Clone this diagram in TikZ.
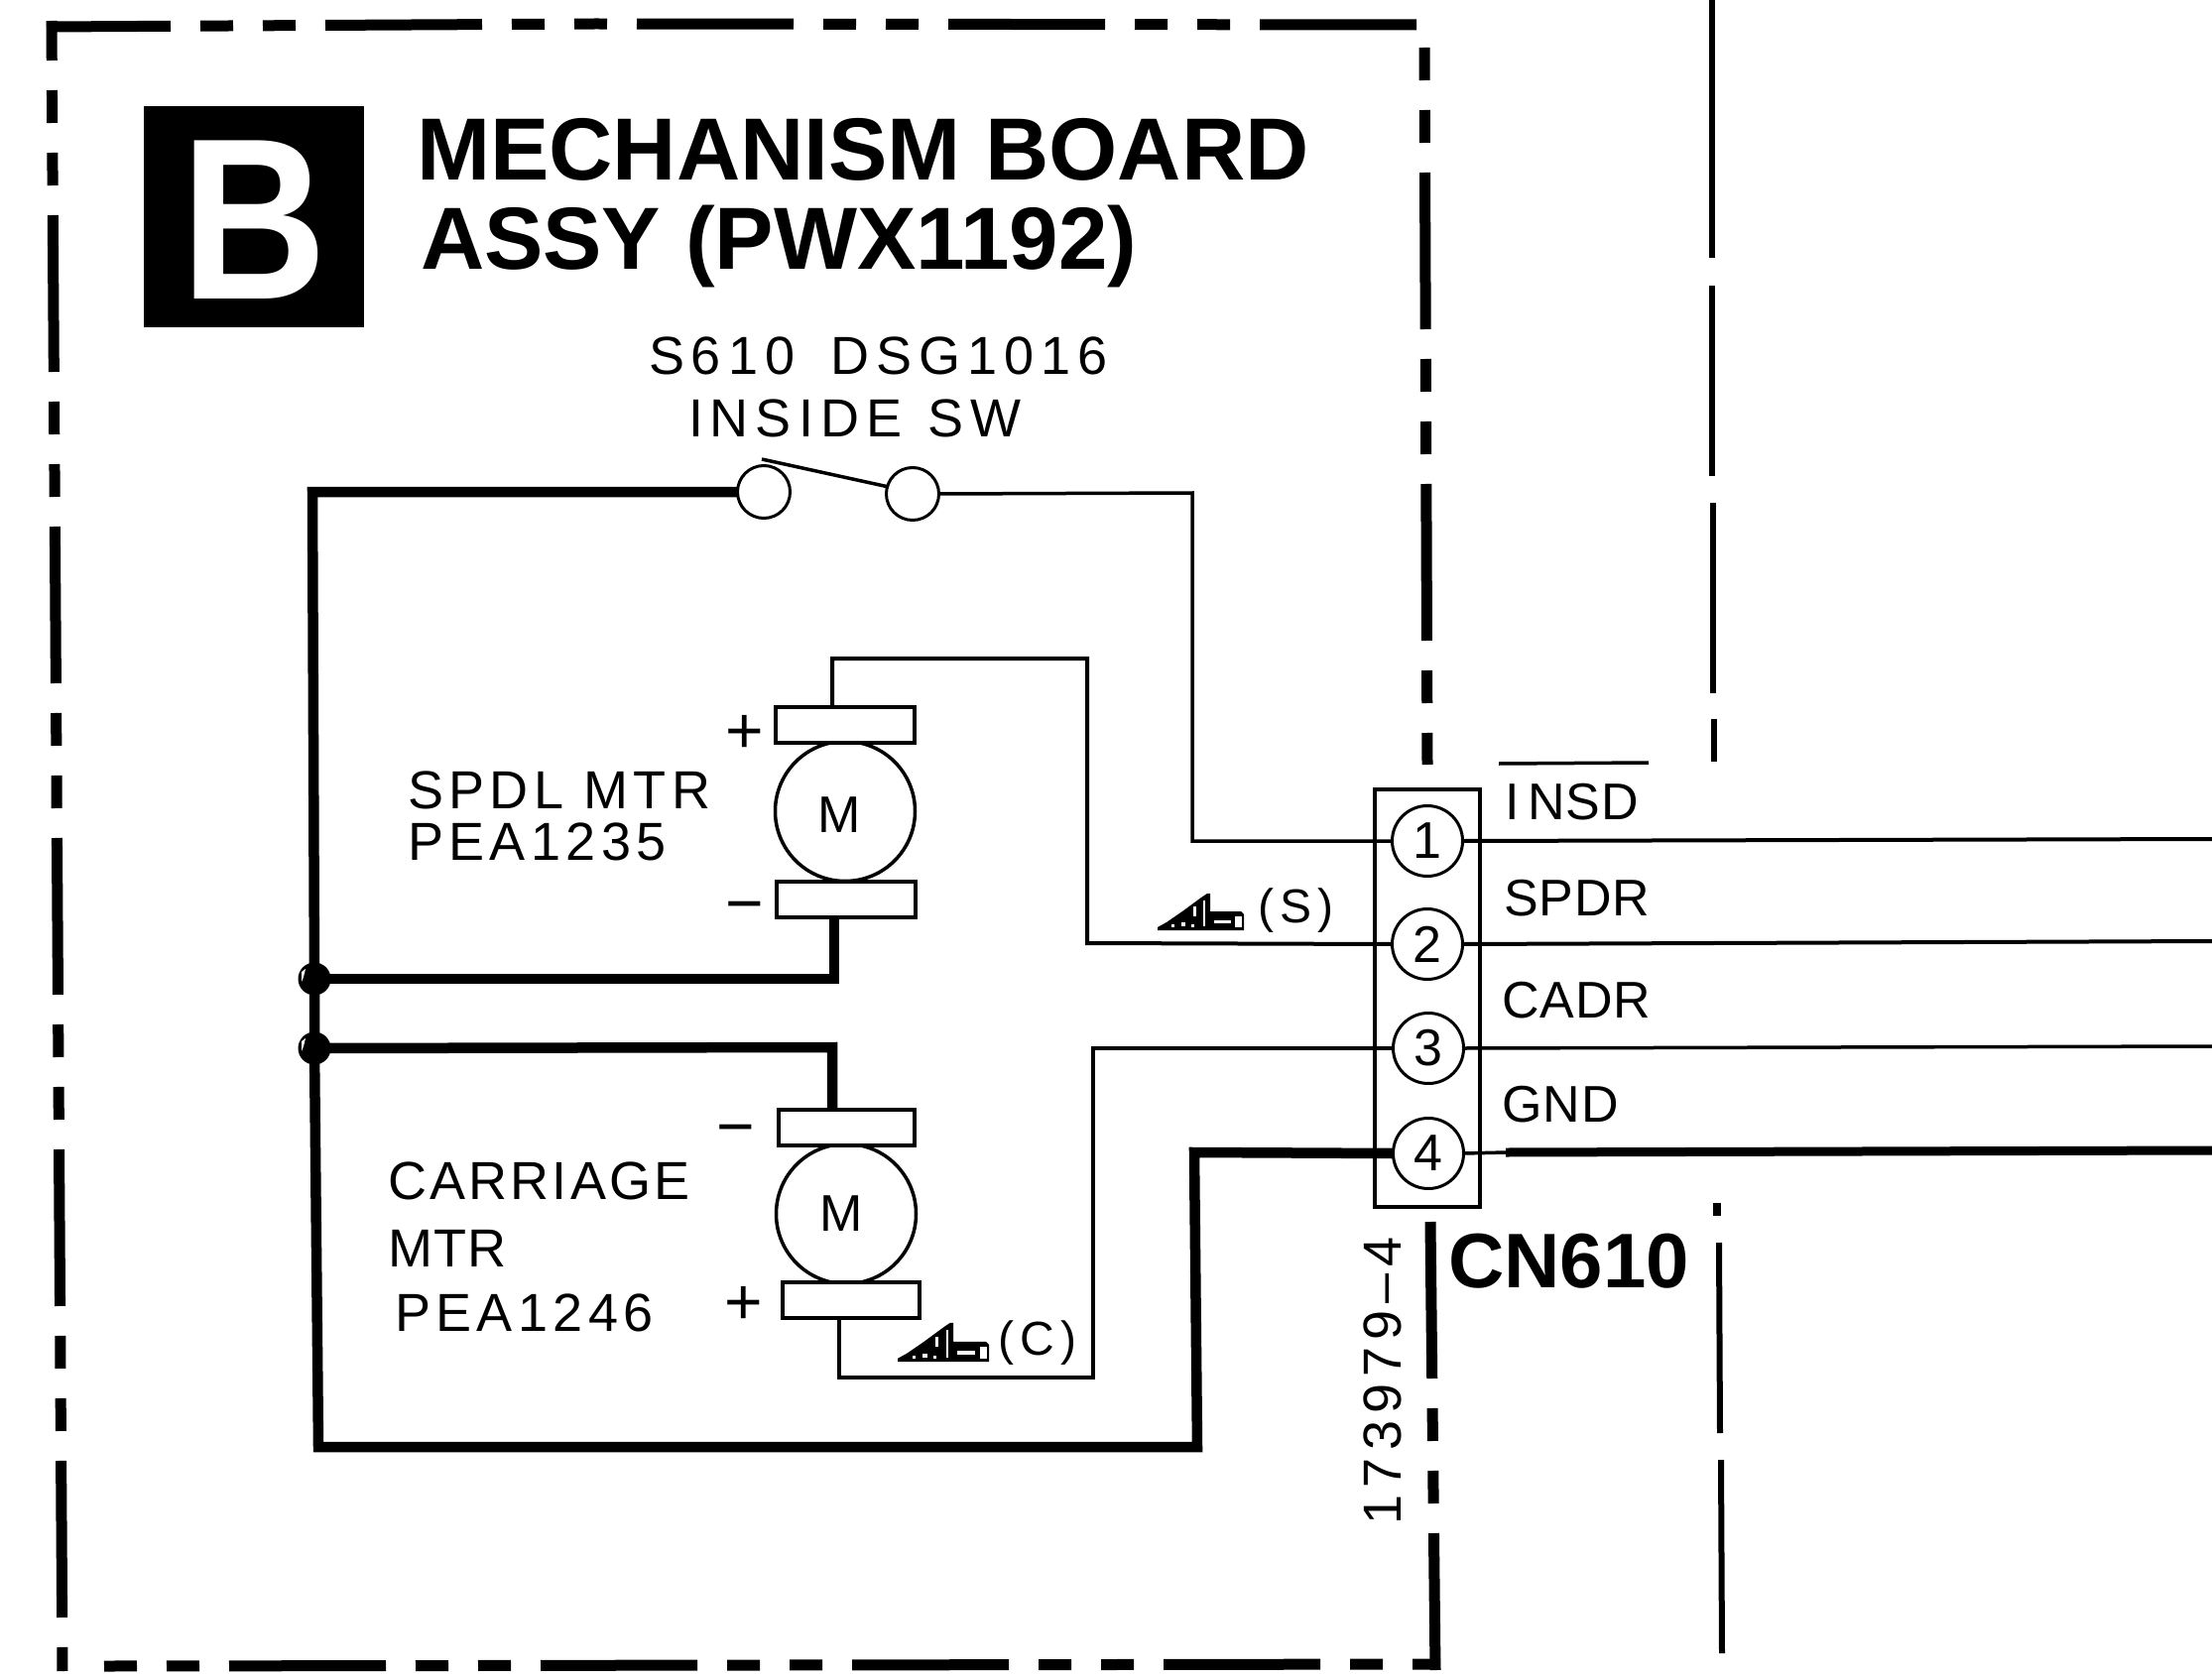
\documentclass[tikz,border=0pt]{standalone}
\usepackage{fontspec}
\setmainfont{Liberation Sans}
\newfontfamily\lblA[LetterSpace=10]{Liberation Sans}
\newfontfamily\lblB[LetterSpace=13]{Liberation Sans}
\newfontfamily\lblC[LetterSpace=2]{Liberation Sans}
\newfontfamily\lblD[LetterSpace=6]{Liberation Sans}
\newcommand{\fsz}[1]{\fontsize{#1}{#1}\selectfont}
\tikzset{
  lbl/.style={inner sep=0pt,outer sep=0pt,anchor=base west,font=\lblA\fsz{54}},
  lblwide/.style={lbl,font=\lblB\fsz{54}},
  lblconn/.style={lbl,font=\lblC\fsz{52}},
  title/.style={inner sep=0pt,outer sep=0pt,anchor=base west,font=\bfseries\fsz{89}},
  sign/.style={inner sep=0pt,outer sep=0pt,anchor=center,font=\fsz{66}},
  wthin/.style={line width=3.5pt,line join=miter},
  wthick/.style={line width=10.5pt,line join=miter},
  border/.style={line width=11pt,dash pattern=on 158pt off 30pt on 33pt off 30pt on 33pt off 30pt},
  outerline/.style={line width=6pt},
  pin/.style={circle,draw,fill=white,line width=3pt,minimum size=71pt,inner sep=0pt,outer sep=0pt,font=\fsz{52}},
  swpin/.style={circle,draw,fill=white,line width=3pt,minimum size=53pt,inner sep=0pt,outer sep=0pt},
  motor/.style={circle,draw,fill=white,line width=3.5pt,minimum size=141pt,inner sep=0pt,outer sep=0pt},
  brush/.style={rectangle,draw,fill=white,line width=4pt,minimum width=140pt,minimum height=36pt,inner sep=0pt,outer sep=0pt},
  junction/.style={circle,fill=black,minimum size=33pt,inner sep=0pt,outer sep=0pt},
  pics/adjsym/.style={code={
    \fill[black] (0,0) -- (0,-3) -- (9,-8) -- (25,-19) -- (44,-33) -- (50,-37) -- (53,-37) -- (53,-19)
      -- (84,-19) -- (87,-16) -- (87,0) -- cycle;
    \fill[white] (46,-4) rectangle (48,-30);
    \fill[white] (36,-14) rectangle (39,-24);
    \fill[white] (14,-3) rectangle (17,-6);
    \fill[white] (24,-4) rectangle (28,-8);
    \fill[white] (34,-3) rectangle (37,-6);
    \fill[white] (57,-7) rectangle (74,-10);
    \fill[white] (78,-3) rectangle (85,-14);
  }},
}
\begin{document}
\begin{tikzpicture}[x=1pt,y=-1pt]
\useasboundingbox (0,0) rectangle (2230,1693);
\fill[white] (0,0) rectangle (2230,1693);

% board outline
\coordinate (tl) at (47,27);
\coordinate (tm) at (600,24);
\coordinate (tr) at (1430,25);
\coordinate (ltop) at (52,21);
\coordinate (lbot) at (63,1685);
\coordinate (rt1) at (1436,48);
\coordinate (rt2) at (1439,771);
\coordinate (rb1) at (1442,1232);
\coordinate (rb2) at (1447,1684);
\coordinate (bl) at (105,1680);
\coordinate (br) at (1452,1678);
\draw[border,dash phase=33pt] (tl) -- (tm) -- (tr);
\draw[border,dash phase=118pt] (ltop) -- (lbot);
\draw[border,dash phase=188pt] (rt1) -- (rt2);
\draw[border] (rb1) -- (rb2);
\draw[border,dash phase=188pt] (bl) -- (br);

% neighbouring outline
\draw[outerline] (1726,0) -- (1726,260);
\draw[outerline] (1726,288) -- (1726,480);
\draw[outerline] (1727,507) -- (1727,699);
\draw[outerline] (1728,725) -- (1728,768);
\draw[outerline,line width=8pt] (1731,1213) -- (1731,1226);
\draw[outerline] (1733,1253) -- (1734,1445);
\draw[outerline] (1735,1472) -- (1736,1667);

% title
\node[rectangle,fill=black,minimum width=222pt,minimum height=223pt,inner sep=0pt,outer sep=0pt] (bbox) at (256,218.5) {};
\node[inner sep=0pt,text=white,font=\bfseries\fsz{232}] (bletter) at (256,222) {\scalebox{.88}[1]{B}};
\node[title] (t1) at (420,182) {MECHANISM BOARD};
\node[title] (t2) at (424,272) {ASSY (PWX1192)};

% switch
\node[lblwide] (s1) at (654,378) {S610\ \hspace{14pt}DSG1016};
\node[lblwide] (s2) at (694,440) {INSIDE\ \hspace{4pt}SW};
\node[swpin] (sw1) at (770,496) {};
\node[swpin] (sw2) at (920,498) {};
\coordinate (arm1) at (768,463);
\coordinate (arm2) at (896,491);
\draw[wthin] (arm1) -- (arm2);

% connector
\node[rectangle,draw,line width=4pt,minimum width=106pt,minimum height=421pt,inner sep=0pt,outer sep=0pt] (cn) at (1438.5,1006) {};

% motors
\node[motor] (m1) at (852,818) {};
\node[brush] (b1t) at (852,731) {};
\node[brush] (b1b) at (853,907) {};
\node[inner sep=0pt,font=\fsz{52}] (m1t) at (846,822) {M};
\node[motor] (m2) at (853,1224) {};
\node[brush,minimum width=137pt] (b2t) at (853.5,1136.5) {};
\node[brush,minimum width=138pt] (b2b) at (858,1311) {};
\node[inner sep=0pt,font=\fsz{52}] (m2t) at (848,1224) {M};
\node[sign] (p1) at (751,740) {+};
\node[sign] (n1) at (751,921) {−};
\node[sign] (n2) at (742,1146) {−};
\node[sign] (p2) at (750,1316) {+};

% pins
\node[pin] (c1) at (1439,848) {1};
\node[pin] (c2) at (1439,952) {2};
\node[pin] (c3) at (1440,1057) {3};
\node[pin] (c4) at (1440,1163) {4};

% junctions and corners
\node[junction] (j1) at (317,987) {};
\node[junction] (j2) at (317,1057) {};
\fill[white] (304,980) -- (308,977) -- (306,985) -- (304,990) -- cycle;
\fill[white] (304,1050) -- (308,1047) -- (306,1055) -- (304,1060) -- cycle;
\coordinate (busT) at (315,496);
\coordinate (busB) at (321,1459);
\coordinate (gB) at (1207,1459);
\coordinate (gT) at (1204,1162);
\coordinate (w1a) at (1202,497);
\coordinate (w1b) at (1202,848);
\coordinate (w2a) at (839,664);
\coordinate (w2b) at (1096,664);
\coordinate (w2c) at (1096,951);
\coordinate (w3a) at (846,1389);
\coordinate (w3b) at (1102,1389);
\coordinate (w3c) at (1102,1057);
\coordinate (w4a) at (841,987);
\coordinate (w5a) at (839,1056);

% wires inside
\draw[wthick] (sw1.west) -- (busT) -- (j1.center) -- (j2.center) -- (busB) -- (gB) -- (gT) -- (c4.west);
\draw[wthick] (j1.center) -- (w4a) -- (b1b.south -| w4a);
\draw[wthick] (j2.center) -- (w5a) -- (b2t.north -| w5a);
\draw[wthin] (sw2.east) -- (w1a) -- (w1b) -- (c1.west);
\draw[wthin,line width=4pt] (b1t.north -| w2a) -- (w2a) -- (w2b) -- (w2c) -- (c2.west);
\draw[wthin] (b2b.south -| w3a) -- (w3a) -- (w3b) -- (w3c) -- (c3.west);

% wires outside
\coordinate (r1) at (2230,846);
\coordinate (r2) at (2230,949);
\coordinate (r3) at (2230,1055);
\coordinate (r4m) at (1518,1162);
\coordinate (r4) at (2230,1160);
\draw[wthin,line width=4pt] (c1.east) -- (r1);
\draw[wthin,line width=4pt] (c2.east) -- (r2);
\draw[wthin] (c3.east) -- (r3);
\draw[wthin] (c4.east) -- (r4m);
\draw[wthick,line width=9pt] (r4m) -- (r4);

% labels
\node[lbl] (l1) at (411,815) {SPDL MTR};
\node[lbl] (l2) at (411,867) {PEA1235};
\node[lbl,font=\lblD\fsz{54}] (l3) at (391,1209) {CARRIAGE};
\node[lbl,font=\lblC\fsz{54}] (l4) at (391,1277) {MTR};
\node[lbl] (l5) at (398,1342) {PEA1246};
\node[lblconn] (n-insd) at (1517,826) {I\,NSD};
\coordinate (ov1) at (1511,770);
\coordinate (ov2) at (1662,769);
\draw[wthin] (ov1) -- (ov2);
\node[lblconn] (n-spdr) at (1516,923) {SPDR};
\node[lblconn] (n-cadr) at (1514,1026) {CADR};
\node[lblconn] (n-gnd) at (1514,1131) {GND};
\node[lblwide,rotate=90] (part) at (1412,1537) {173979–4};
\node[inner sep=0pt,outer sep=0pt,anchor=base west,font=\bfseries\fsz{78}] (cnname) at (1460,1298) {CN610};

% adjustment marks
\pic (symS) at (1167,938) {adjsym};
\node[lblwide,font=\lblB\fsz{48}] (tS) at (1268,930) {(S)};
\pic[scale=1.06] (symC) at (905,1373) {adjsym};
\node[lblwide,font=\lblB\fsz{48}] (tC) at (1006,1366) {(C)};
\end{tikzpicture}
\end{document}
